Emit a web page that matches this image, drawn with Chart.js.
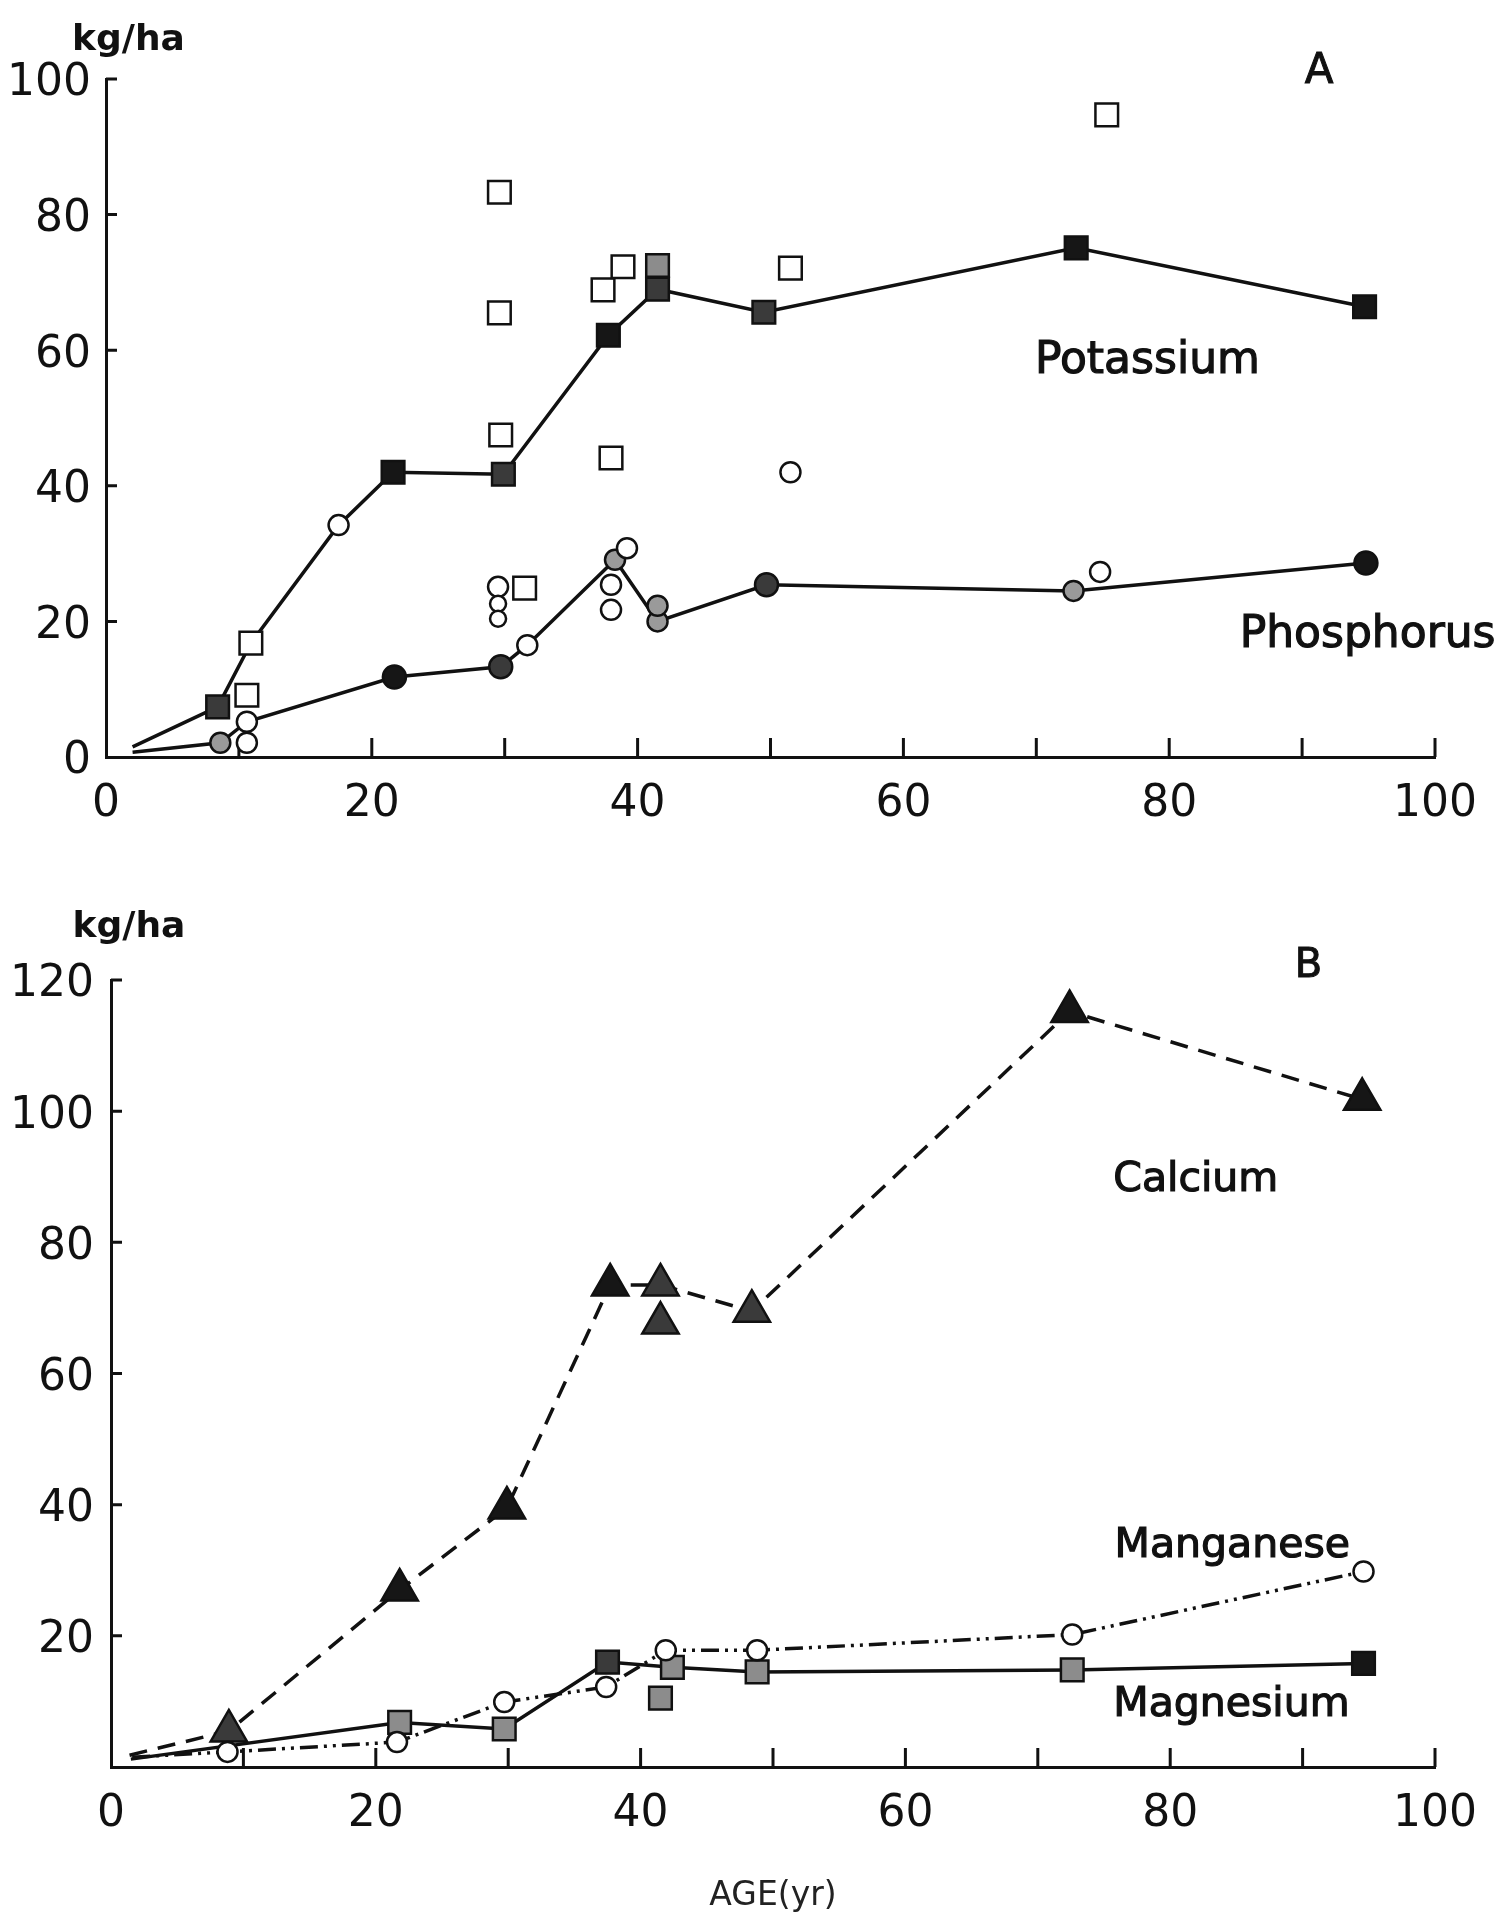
<!DOCTYPE html>
<html><head><meta charset="utf-8">
<script src="https://cdn.jsdelivr.net/npm/chart.js@4"></script>
<style>
html,body{margin:0;padding:0;background:#fff;}
#wrap{position:relative;width:1498px;height:1916px;background:#fff;}
canvas{position:absolute;left:0;}
#cA{top:0;}
#cB{top:880px;}
</style></head><body>
<div id="wrap"><canvas id="cA" width="1498" height="880"></canvas><canvas id="cB" width="1498" height="1036"></canvas></div>
<script>
// ---------- DATA ----------
const xTicks  = [0,10,20,30,40,50,60,70,80,90,100];
const yTicksA = [0,20,40,60,80,100];
const yTicksB = [0,20,40,60,80,100,120];

// Panel A - Potassium (connected)
const kLineX    = [2, 8.4, 10.9, 17.5, 21.6, 29.9, 37.8, 41.5, 49.5, 73.0, 94.7];
const kLineY    = [1.5, 7.4, 16.8, 34.2, 42.0, 41.7, 62.2, 69.0, 65.6, 75.1, 66.4];
const kLineMark = ['none','sqD','sqO','ciO','sqK','sqD','sqK','sqD','sqD','sqK','sqK'];
// Potassium (unconnected)
const kOpenX    = [10.6, 29.6, 29.6, 29.7, 31.5, 37.4, 38.0, 38.9, 51.5, 75.3, 41.5];
const kOpenY    = [9.1, 83.3, 65.5, 47.5, 24.9, 68.9, 44.1, 72.3, 72.1, 94.7, 72.5];
const kOpenMark = ['sqO','sqO','sqO','sqO','sqO','sqO','sqO','sqO','sqO','sqO','sqG'];

// Panel A - Phosphorus (connected)
const pLineX    = [2, 8.6, 10.6, 21.7, 29.7, 31.7, 38.3, 41.5, 49.7, 72.8, 94.8];
const pLineY    = [0.7, 2.1, 5.2, 11.8, 13.3, 16.5, 29.1, 20.0, 25.4, 24.5, 28.6];
const pLineMark = ['none','ciG','ciO','ciK','ciD','ciO','ciG','ciG','ciD','ciG','ciK'];
// Phosphorus (unconnected)
const pOpenX    = [10.6, 29.5, 29.5, 29.5, 38.0, 38.0, 39.2, 41.5, 51.5, 74.8];
const pOpenY    = [2.1, 25.1, 22.6, 20.4, 25.4, 21.7, 30.8, 22.3, 42.0, 27.3];
const pOpenMark = ['ciO','ciO','ciS','ciS','ciO','ciO','ciO','ciG','ciO','ciO'];

// Panel B - Calcium
const caX    = [1.4, 8.9, 21.8, 29.9, 37.7, 41.5, 48.4, 72.4, 94.5];
const caY    = [1.8, 5.5, 27.0, 39.5, 73.5, 73.5, 69.5, 115.2, 101.8];
const caMark = ['none','trG','trK','trK','trK','trG','trG','trK','trK'];
const caExtraX = [41.5];
const caExtraY = [67.7];
// Panel B - Manganese
const mnX    = [1.6, 8.8, 21.6, 29.7, 37.4, 41.9, 48.8, 72.6, 94.6];
const mnY    = [1.5, 2.3, 3.8, 9.9, 12.2, 17.8, 17.8, 20.2, 29.8];
const mnMark = ['none','ciO','ciO','ciO','ciO','ciO','ciO','ciO','ciO'];
// Panel B - Magnesium
const mgX    = [1.5, 21.8, 29.7, 37.5, 42.4, 48.8, 72.6, 94.6];
const mgY    = [1.2, 6.8, 5.8, 16.0, 15.2, 14.5, 14.8, 15.8];
const mgMark = ['none','sqG','sqG','sqD','sqG','sqG','sqG','sqK'];
const mgExtraX = [41.5];
const mgExtraY = [10.5];

// ---------- STYLE ----------
const INK = '#111';
const MARK = {
  none:{style:'circle',  r:0,    fill:'#fff'},
  sqK: {style:'rect',    r:16,   fill:'#161616'},
  sqD: {style:'rect',    r:16,   fill:'#3a3a3a'},
  sqG: {style:'rect',    r:16,   fill:'#8c8c8c'},
  sqO: {style:'rect',    r:16,   fill:'#ffffff'},
  ciK: {style:'circle',  r:11.5, fill:'#161616'},
  ciD: {style:'circle',  r:11.5, fill:'#3a3a3a'},
  ciG: {style:'circle',  r:10,   fill:'#9a9a9a'},
  ciO: {style:'circle',  r:10,   fill:'#ffffff'},
  ciS: {style:'circle',  r:8,    fill:'#ffffff'},
  trK: {style:'triangle',r:21,   fill:'#161616'},
  trG: {style:'triangle',r:21,   fill:'#3a3a3a'}
};
function ds(xs, ys, marks, extra) {
  return Object.assign({
    data: xs.map((x,i)=>({x:x, y:ys[i]})),
    pointStyle: marks.map(m=>MARK[m].style),
    pointRadius: marks.map(m=>MARK[m].r),
    pointBackgroundColor: marks.map(m=>MARK[m].fill),
    pointBorderColor: INK,
    pointBorderWidth: marks.map(m=>m==='none'?0:2.5),
    borderColor: INK, borderWidth: 3, showLine: false, clip: false, tension: 0
  }, extra || {});
}

const inTicks = {
  id:'inTicks',
  beforeDatasetsDraw(chart, args, o) {
    const {ctx, chartArea:ca, scales:{x,y}} = chart;
    ctx.save(); ctx.strokeStyle = INK; ctx.lineWidth = 3;
    ctx.beginPath();
    o.xt.forEach(t => { if (t===0) return; const p = x.getPixelForValue(t); ctx.moveTo(p, ca.bottom); ctx.lineTo(p, ca.bottom - o.xLen); });
    o.yt.forEach(t => { if (t===0) return; const p = y.getPixelForValue(t); ctx.moveTo(ca.left, p); ctx.lineTo(ca.left + o.yLen, p); });
    ctx.stroke(); ctx.restore();
  }
};
const texts = {
  id:'texts',
  afterDatasetsDraw(chart, args, o) {
    const {ctx, scales:{x,y}} = chart;
    ctx.save(); ctx.fillStyle = INK; ctx.strokeStyle = INK; ctx.textAlign='left'; ctx.textBaseline='alphabetic';
    o.items.forEach(it => {
      ctx.font = it.font;
      const px = x.getPixelForValue(it.x), py = y.getPixelForValue(it.y);
      ctx.fillText(it.text, px, py);
      if (it.stroke) { ctx.lineWidth = it.stroke; ctx.strokeText(it.text, px, py); }
    });
    ctx.restore();
  }
};

function makeChart(id, cfg) {
  return new Chart(document.getElementById(id), {
    type: 'scatter',
    data: { datasets: cfg.datasets },
    plugins: [inTicks, texts],
    options: {
      responsive:false, animation:false, events:[], devicePixelRatio:1,
      layout:{ padding:{ top:cfg.padTop, right:cfg.padRight, left:0, bottom:0 } },
      plugins:{ legend:{display:false}, tooltip:{enabled:false},
        inTicks:{ xt:xTicks, yt:cfg.yt, xLen:19, yLen:11 },
        texts:{ items:cfg.texts } },
      scales:{
        x:{ type:'linear', min:0, max:100,
            afterFit: s => { s.height = cfg.xH; },
            afterBuildTicks: s => { s.ticks = xTicks.map(v=>({value:v})); },
            grid:{display:true, drawOnChartArea:false, drawTicks:false},
            border:{display:true, color:INK, width:3},
            ticks:{ autoSkip:false, maxRotation:0, padding:21, color:INK,
                    font:{family:'DejaVu Sans', size:44},
                    callback: v => (v % 20 === 0 ? String(v) : '') },
            title: cfg.xTitle ? { display:true, text:cfg.xTitle, color:'#222',
                    font:{family:'DejaVu Sans', size:33}, padding:{top:0,bottom:0} } : {display:false}
        },
        y:{ type:'linear', min:0, max:cfg.yMax,
            afterFit: s => { s.width = cfg.yW; },
            afterBuildTicks: s => { s.ticks = cfg.yt.map(v=>({value:v})); },
            grid:{display:true, drawOnChartArea:false, drawTicks:false},
            border:{display:true, color:INK, width:3},
            ticks:{ autoSkip:false, padding:cfg.yPad, color:INK, labelOffset:5,
                    font:{family:'DejaVu Sans', size:44},
                    callback: v => (cfg.hideY0 && v === 0 ? '' : String(v)) }
        }
      }
    }
  });
}

const lblFont = s => `${s}px "DejaVu Sans"`;
makeChart('cA', {
  padTop:79, padRight:57, xH:123, yW:106, yPad:15, yMax:100, yt:yTicksA, hideY0:false,
  texts:[
    {text:'kg/ha', x:-2.55, y:104.3, font:'bold 36px "DejaVu Sans"'},
    {text:'A', x:90.2, y:99.4, font:lblFont(42), stroke:1},
    {text:'Potassium', x:69.9, y:56.7, font:lblFont(44), stroke:1.2},
    {text:'Phosphorus', x:85.3, y:16.2, font:lblFont(44), stroke:1.2}
  ],
  datasets:[
    ds(kOpenX, kOpenY, kOpenMark, {order:1}),
    ds(pOpenX, pOpenY, pOpenMark, {order:2}),
    ds(kLineX, kLineY, kLineMark, {showLine:true, borderWidth:3.5, order:3}),
    ds(pLineX, pLineY, pLineMark, {showLine:true, borderWidth:3.5, order:4})
  ]
});
makeChart('cB', {
  padTop:100, padRight:52, xH:149, yW:111, yPad:17, yMax:120, yt:yTicksB, hideY0:true,
  xTitle:'AGE(yr)',
  texts:[
    {text:'kg/ha', x:-2.9, y:126.5, font:'bold 36px "DejaVu Sans"'},
    {text:'B', x:89.4, y:120.4, font:lblFont(40), stroke:1},
    {text:'Calcium', x:75.7, y:87.8, font:lblFont(41), stroke:1.2},
    {text:'Manganese', x:75.8, y:32.0, font:lblFont(41), stroke:1.2},
    {text:'Magnesium', x:75.7, y:7.8, font:lblFont(41), stroke:1.2}
  ],
  datasets:[
    ds(caExtraX, caExtraY, ['trG'], {order:1}),
    ds(mgExtraX, mgExtraY, ['sqG'], {order:2}),
    ds(mnX, mnY, mnMark, {showLine:true, borderDash:[18,6,3,6,3,6], borderWidth:3.5, order:3}),
    ds(mgX, mgY, mgMark, {showLine:true, borderWidth:3.5, order:4}),
    ds(caX, caY, caMark, {showLine:true, borderDash:[18,11], borderWidth:3.5, order:5})
  ]
});
</script>
</body></html>
